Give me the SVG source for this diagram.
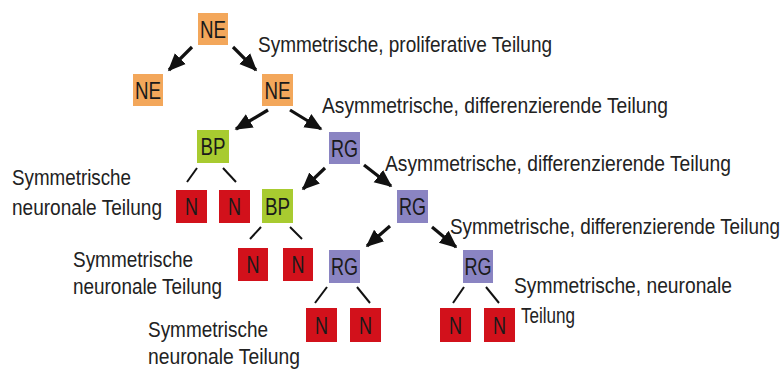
<svg xmlns="http://www.w3.org/2000/svg" width="783" height="369" viewBox="0 0 783 369">
<style>
.ne{fill:#F3A75B}
.bp{fill:#A8CB30}
.rg{fill:#8A84C2}
.n{fill:#D2111B}
.bt{font-family:"Liberation Sans",Arial,sans-serif;font-size:20px;fill:#1a1a1a;text-anchor:middle}
.lb{font-family:"Liberation Sans",Arial,sans-serif;font-size:19px;fill:#222}
.arr{stroke:#111;stroke-width:3.2;fill:none;marker-end:url(#ah)}
.ln{stroke:#111;stroke-width:2;fill:none}
</style>
<defs>
<marker id="ah" markerWidth="6" markerHeight="6" refX="5" refY="3" orient="auto" markerUnits="strokeWidth">
<path d="M0,0.6 L5.5,3 L0,5.4 Z" fill="#111"/>
</marker>
</defs>
<rect width="783" height="369" fill="#fff"/>
<g id="connectors">
<line class="arr" x1="192" y1="47" x2="169" y2="70"/>
<line class="arr" x1="233" y1="47" x2="256" y2="70"/>
<line class="arr" x1="268" y1="110" x2="236" y2="129"/>
<line class="arr" x1="290" y1="110" x2="321" y2="129"/>
<line class="arr" x1="325" y1="168" x2="303" y2="189"/>
<line class="arr" x1="364" y1="165" x2="391" y2="186"/>
<line class="arr" x1="390" y1="226" x2="367" y2="246"/>
<line class="arr" x1="432" y1="227" x2="456" y2="247"/>
<line class="ln" x1="197" y1="168" x2="187" y2="182"/>
<line class="ln" x1="223" y1="168" x2="236" y2="182"/>
<line class="ln" x1="261" y1="227" x2="250" y2="239"/>
<line class="ln" x1="290" y1="227" x2="302" y2="239"/>
<line class="ln" x1="327" y1="287" x2="315" y2="303"/>
<line class="ln" x1="357" y1="287" x2="370" y2="303"/>
<line class="ln" x1="464" y1="287" x2="453" y2="303"/>
<line class="ln" x1="486" y1="287" x2="499" y2="303"/>
</g>
<g id="ne1"><rect class="ne" x="198" y="13" width="30" height="32"/><text class="bt" transform="matrix(1,0,0,1.2,213,38)" textLength="26" lengthAdjust="spacingAndGlyphs">NE</text></g>
<g id="ne2"><rect class="ne" x="133" y="74" width="30" height="32"/><text class="bt" transform="matrix(1,0,0,1.2,148,99)" textLength="26" lengthAdjust="spacingAndGlyphs">NE</text></g>
<g id="ne3"><rect class="ne" x="262" y="74" width="31" height="32"/><text class="bt" transform="matrix(1,0,0,1.2,277.5,99)" textLength="26" lengthAdjust="spacingAndGlyphs">NE</text></g>
<g id="bp1"><rect class="bp" x="197" y="130" width="32" height="33"/><text class="bt" transform="matrix(1,0,0,1.2,213,155)" textLength="25" lengthAdjust="spacingAndGlyphs">BP</text></g>
<g id="rg1"><rect class="rg" x="329" y="132" width="31" height="32"/><text class="bt" transform="matrix(1,0,0,1.2,344.5,157)" textLength="27" lengthAdjust="spacingAndGlyphs">RG</text></g>
<g id="n1"><rect class="n" x="176" y="190" width="31" height="33"/><text class="bt" transform="matrix(1,0,0,1.2,191.5,215)" textLength="13" lengthAdjust="spacingAndGlyphs">N</text></g>
<g id="n2"><rect class="n" x="219" y="190" width="31" height="33"/><text class="bt" transform="matrix(1,0,0,1.2,234.5,215)" textLength="13" lengthAdjust="spacingAndGlyphs">N</text></g>
<g id="bp2"><rect class="bp" x="262" y="189" width="31" height="34"/><text class="bt" transform="matrix(1,0,0,1.2,277.5,215)" textLength="25" lengthAdjust="spacingAndGlyphs">BP</text></g>
<g id="rg2"><rect class="rg" x="397" y="190" width="31" height="33"/><text class="bt" transform="matrix(1,0,0,1.2,412.5,215)" textLength="27" lengthAdjust="spacingAndGlyphs">RG</text></g>
<g id="n3"><rect class="n" x="238" y="248" width="30" height="33"/><text class="bt" transform="matrix(1,0,0,1.2,253,273)" textLength="13" lengthAdjust="spacingAndGlyphs">N</text></g>
<g id="n4"><rect class="n" x="283" y="248" width="30" height="33"/><text class="bt" transform="matrix(1,0,0,1.2,298,273)" textLength="13" lengthAdjust="spacingAndGlyphs">N</text></g>
<g id="rg3"><rect class="rg" x="329" y="250" width="31" height="33"/><text class="bt" transform="matrix(1,0,0,1.2,344.5,275)" textLength="27" lengthAdjust="spacingAndGlyphs">RG</text></g>
<g id="rg4"><rect class="rg" x="463" y="250" width="30" height="33"/><text class="bt" transform="matrix(1,0,0,1.2,478,275)" textLength="27" lengthAdjust="spacingAndGlyphs">RG</text></g>
<g id="n5"><rect class="n" x="306" y="308" width="31" height="34"/><text class="bt" transform="matrix(1,0,0,1.2,321.5,334)" textLength="13" lengthAdjust="spacingAndGlyphs">N</text></g>
<g id="n6"><rect class="n" x="350" y="308" width="31" height="34"/><text class="bt" transform="matrix(1,0,0,1.2,365.5,334)" textLength="13" lengthAdjust="spacingAndGlyphs">N</text></g>
<g id="n7"><rect class="n" x="440" y="308" width="31" height="34"/><text class="bt" transform="matrix(1,0,0,1.2,455.5,334)" textLength="13" lengthAdjust="spacingAndGlyphs">N</text></g>
<g id="n8"><rect class="n" x="484" y="308" width="31" height="34"/><text class="bt" transform="matrix(1,0,0,1.2,499.5,334)" textLength="13" lengthAdjust="spacingAndGlyphs">N</text></g>
<g id="labels">
<text class="lb" transform="matrix(1,0,0,1.2,258,52)" textLength="294" lengthAdjust="spacingAndGlyphs">Symmetrische, proliferative Teilung</text>
<text class="lb" transform="matrix(1,0,0,1.2,322,113)" textLength="346" lengthAdjust="spacingAndGlyphs">Asymmetrische, differenzierende Teilung</text>
<text class="lb" transform="matrix(1,0,0,1.2,385,171)" textLength="346" lengthAdjust="spacingAndGlyphs">Asymmetrische, differenzierende Teilung</text>
<text class="lb" transform="matrix(1,0,0,1.2,450,234)" textLength="330" lengthAdjust="spacingAndGlyphs">Symmetrische, differenzierende Teilung</text>
<text class="lb" transform="matrix(1,0,0,1.2,514,293)" textLength="218" lengthAdjust="spacingAndGlyphs">Symmetrische, neuronale</text>
<text class="lb" transform="matrix(1,0,0,1.2,521,323)" textLength="54" lengthAdjust="spacingAndGlyphs">Teilung</text>
<text class="lb" transform="matrix(1,0,0,1.2,12,185)" textLength="119" lengthAdjust="spacingAndGlyphs">Symmetrische</text>
<text class="lb" transform="matrix(1,0,0,1.2,12,215)" textLength="150" lengthAdjust="spacingAndGlyphs">neuronale Teilung</text>
<text class="lb" transform="matrix(1,0,0,1.2,73,267)" textLength="120" lengthAdjust="spacingAndGlyphs">Symmetrische</text>
<text class="lb" transform="matrix(1,0,0,1.2,73,294)" textLength="149" lengthAdjust="spacingAndGlyphs">neuronale Teilung</text>
<text class="lb" transform="matrix(1,0,0,1.2,148,337)" textLength="120" lengthAdjust="spacingAndGlyphs">Symmetrische</text>
<text class="lb" transform="matrix(1,0,0,1.2,148,364)" textLength="152" lengthAdjust="spacingAndGlyphs">neuronale Teilung</text>
</g>
</svg>
